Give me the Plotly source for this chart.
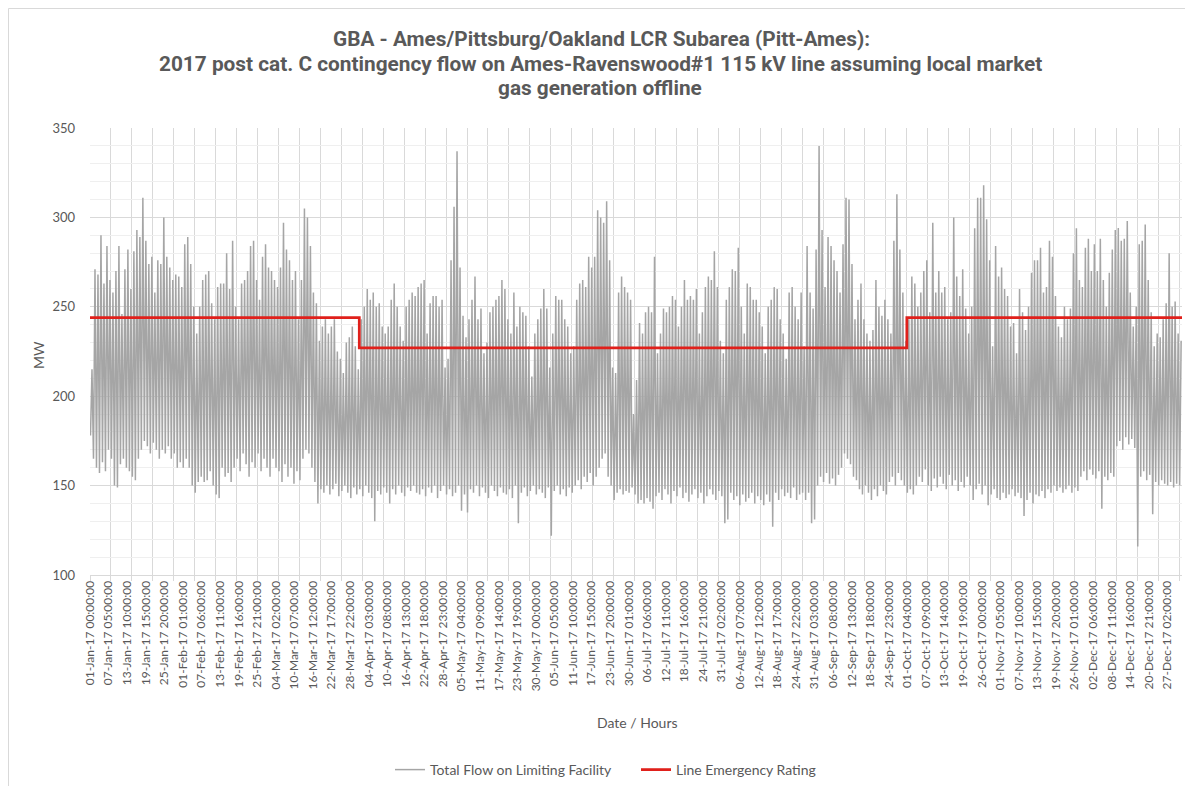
import pandas as pd
import plotly.graph_objects as go

# ---------------- data ----------------
year_start = "2017-01-01"

# daily peak of total flow (MW), 01-Jan .. 31-Dec
daily_high = [
    215, 271, 268, 290, 263, 284, 265, 258, 270, 284,
    246, 271, 282, 260, 281, 293, 289, 311, 287, 274,
    278, 258, 276, 274, 300, 278, 272, 265, 268, 267,
    261, 285, 289, 274, 250, 235, 250, 265, 268, 270,
    252, 243, 261, 263, 263, 280, 260, 287, 250, 243,
    263, 265, 270, 284, 287, 265, 254, 278, 285, 272,
    270, 265, 261, 272, 297, 282, 276, 265, 270, 243,
    265, 305, 300, 284, 258, 252, 231, 239, 243, 235,
    239, 243, 225, 221, 213, 230, 233, 239, 228, 215,
    243, 250, 260, 254, 258, 250, 252, 239, 235, 239,
    254, 263, 250, 239, 231, 250, 254, 258, 256, 261,
    263, 265, 235, 252, 256, 256, 250, 254, 216, 221,
    276, 306, 337, 272, 245, 233, 243, 254, 267, 243,
    249, 224, 230, 247, 250, 254, 256, 265, 260, 243,
    235, 258, 239, 250, 247, 245, 228, 211, 235, 243,
    249, 260, 249, 216, 235, 256, 254, 254, 243, 239,
    224, 228, 254, 263, 265, 261, 278, 272, 278, 304,
    300, 297, 309, 276, 216, 213, 258, 267, 261, 258,
    254, 190, 209, 241, 235, 247, 250, 247, 278, 224,
    235, 249, 247, 250, 256, 254, 239, 250, 265, 254,
    256, 254, 260, 235, 247, 261, 267, 265, 281, 261,
    231, 224, 254, 261, 271, 270, 283, 250, 235, 263,
    261, 254, 254, 247, 239, 224, 250, 254, 261, 260,
    243, 235, 221, 258, 261, 250, 243, 258, 228, 284,
    258, 249, 282, 340, 293, 261, 289, 284, 276, 270,
    258, 285, 311, 310, 274, 243, 254, 263, 243, 235,
    231, 237, 265, 250, 245, 254, 243, 235, 287, 313,
    282, 258, 231, 243, 267, 263, 250, 258, 270, 276,
    247, 297, 258, 270, 258, 261, 243, 247, 300, 267,
    256, 271, 249, 235, 250, 294, 311, 311, 318, 299,
    276, 228, 284, 267, 272, 260, 256, 239, 241, 224,
    260, 247, 237, 250, 269, 276, 276, 283, 258, 261,
    287, 278, 256, 239, 233, 250, 243, 249, 280, 294,
    265, 261, 283, 288, 270, 285, 270, 288, 265, 250,
    269, 282, 293, 294, 287, 288, 298, 258, 239, 250,
    285, 287, 296, 265, 247, 228, 235, 233, 243, 252,
    280, 250, 253, 235, 231,
]

# daily trough of total flow (MW)
daily_low = [
    178, 165, 160, 157, 163, 158, 170, 165, 150, 149,
    162, 165, 160, 158, 155, 153, 165, 170, 175, 172,
    168, 174, 170, 165, 170, 168, 172, 165, 168, 160,
    163, 160, 165, 160, 150, 146, 152, 155, 152, 153,
    158, 150, 145, 143, 160, 155, 157, 152, 160, 165,
    158, 168, 162, 155, 163, 160, 168, 158, 165, 160,
    155, 165, 160, 158, 152, 162, 155, 160, 151, 158,
    153, 165, 170, 168, 160, 152, 140, 148, 146, 150,
    145, 148, 151, 144, 147, 150, 146, 143, 149, 145,
    148, 144, 150, 146, 143, 130, 147, 145, 149, 146,
    140, 148, 145, 150, 146, 144, 149, 147, 150, 146,
    145, 148, 144, 149, 146, 150, 143, 147, 150, 145,
    148, 144, 146, 150, 136, 145, 135, 148, 146, 150,
    144, 149, 146, 143, 150, 147, 144, 149, 146, 145,
    148, 143, 150, 129, 146, 149, 144, 147, 150, 145,
    148, 146, 143, 149, 122, 147, 150, 145, 148, 144,
    149, 146, 150, 153, 148, 155, 152, 157, 150, 155,
    160, 165, 168, 155, 150, 142, 146, 148, 145, 147,
    146, 149, 145, 140, 142, 140, 143, 141, 137, 144,
    146, 142, 148, 145, 140, 147, 144, 149, 143, 146,
    141, 145, 148, 143, 146, 140, 144, 148, 145, 142,
    147, 144, 129, 131, 146, 142, 144, 139, 145, 141,
    143, 146, 140, 144, 142, 139, 145, 141, 127, 146,
    142, 148, 144, 146, 143, 149, 142, 145, 146, 142,
    146, 129, 131, 150, 155, 152, 157, 151, 154, 150,
    156, 160, 168, 165, 162, 155, 153, 148, 145, 150,
    146, 142, 148, 144, 150, 147, 145, 152, 155, 150,
    157, 153, 150, 146, 148, 145, 150, 155, 152, 159,
    150, 147, 154, 149, 155, 151, 148, 156, 150, 153,
    147, 152, 149, 155, 150, 142, 148, 151, 145, 150,
    139, 145, 148, 143, 142, 146, 143, 145, 148, 144,
    146, 143, 133, 142, 146, 140, 145, 144, 147, 143,
    148, 146, 150, 147, 149, 146, 148, 150, 146, 149,
    147, 155, 158, 153, 159, 156, 154, 158, 137, 155,
    153, 157, 155, 172, 175, 170, 177, 173, 176, 171,
    116, 155, 158, 153, 156, 134, 152, 150, 153, 151,
    150, 152, 149, 151, 150,
]

# line emergency rating (MW) and the date each value starts
rating_start = ["2017-01-01 00:00", "2017-04-01 00:00", "2017-10-01 00:00", "2017-12-31 23:00"]
rating_value = [244, 227, 244, 244]

# category axis: a label every 149 hours, a tick/gridline every 168 hours
label_step_hours = 149
grid_step_hours = 168
n_hours = 8760

assert len(daily_high) == 365 and len(daily_low) == 365

# ---------------- build traces ----------------
t0 = pd.Timestamp(year_start)
flow_x, flow_y = [], []
for d in range(365):
    flow_x += [d * 24 + 4, d * 24 + 16]
    flow_y += [daily_low[d], daily_high[d]]

rate_x = [(pd.Timestamp(s) - t0) / pd.Timedelta(hours=1) for s in rating_start]

tickvals = list(range(0, n_hours, label_step_hours))
ticktext = [(t0 + pd.Timedelta(hours=h)).strftime("%d-%b-%y %H:%M:%S") for h in tickvals]
gridvals = list(range(0, n_hours, grid_step_hours))

TXT = "#595959"
FONT = "Lato"

fig = go.Figure()
fig.add_trace(go.Scatter(
    x=flow_x, y=flow_y, mode="lines",
    line=dict(color="#A5A5A5", width=1.5),
    name="Total Flow on Limiting Facility",
))
fig.add_trace(go.Scatter(
    x=rate_x, y=rating_value, mode="lines",
    line=dict(color="#E0201B", width=2.75, shape="hv"),
    name="Line Emergency Rating",
))

# the page body has an 8px margin: work in page pixels, convert to figure coordinates
OFF = 8
W, H = 1193 - OFF, 786 - OFF
PL, PR, PT, PB = 90, 1182, 128, 575           # plot area in page pixels
L, R, T, B = PL - OFF, W - (PR - OFF), PT - OFF, H - (PB - OFF)
pw, ph = W - L - R, H - T - B

def px(xp):   # page x -> paper x
    return (xp - OFF - L) / pw

def py(yp):   # page y -> paper y
    return (H - B - (yp - OFF)) / ph

TITLE_FONT = dict(size=20.8, color=TXT, family="Roboto", weight="bold")

fig.update_layout(
    template="none",
    width=W, height=H,
    margin=dict(l=L, r=R, t=T, b=B, autoexpand=False),
    paper_bgcolor="white", plot_bgcolor="white",
    font=dict(family=FONT, color=TXT, size=12),
    showlegend=True,
    legend=dict(orientation="h", x=px(390), xanchor="left", y=py(770), yanchor="middle",
                font=dict(size=14, color=TXT), bgcolor="rgba(0,0,0,0)",
                entrywidth=201, entrywidthmode="pixels"),
    xaxis=dict(
        range=[0, n_hours - 1], tickmode="array", tickvals=tickvals, ticktext=ticktext,
        tickangle=-90, tickfont=dict(size=12, color=TXT), ticks="", showgrid=False,
        showline=True, linecolor="#D9D9D9", linewidth=1, zeroline=False, automargin=False,
        minor=dict(tickmode="array", tickvals=gridvals, showgrid=True, gridcolor="#D9D9D9",
                   gridwidth=1, ticks="outside", ticklen=5, tickcolor="#D9D9D9"),
    ),
    yaxis=dict(
        range=[100, 350], dtick=50, tick0=100, showgrid=True, gridcolor="#D9D9D9", gridwidth=1,
        tickfont=dict(size=13, color=TXT), zeroline=False, showline=False, ticks="",
        ticklabelstandoff=14, automargin=False,
        minor=dict(dtick=10, showgrid=True, gridcolor="#EFEFEF", gridwidth=1),
    ),
    annotations=[
        dict(text="GBA - Ames/Pittsburg/Oakland LCR Subarea (Pitt-Ames):", x=px(601), xref="paper",
             xanchor="center", y=py(39), yref="paper", yanchor="middle", showarrow=False,
             font=TITLE_FONT),
        dict(text="2017 post cat. C contingency flow on Ames-Ravenswood#1 115 kV line assuming local market",
             x=px(600), xref="paper", xanchor="center", y=py(63.5), yref="paper", yanchor="middle",
             showarrow=False, font=TITLE_FONT),
        dict(text="gas generation offline", x=px(600), xref="paper", xanchor="center", y=py(88),
             yref="paper", yanchor="middle", showarrow=False, font=TITLE_FONT),
        dict(text="MW", x=px(38), xref="paper", xanchor="center", y=py(355), yref="paper",
             yanchor="middle", textangle=-90, showarrow=False, font=dict(size=14, color=TXT)),
        dict(text="Date / Hours", x=px(637), xref="paper", xanchor="center", y=py(722),
             yref="paper", yanchor="middle", showarrow=False, font=dict(size=14, color=TXT)),
    ],
    shapes=[
        dict(type="line", xref="paper", yref="paper", x0=px(8.5), x1=px(1193), y0=py(8.5), y1=py(8.5),
             line=dict(color="#D9D9D9", width=1), layer="below"),
        dict(type="line", xref="paper", yref="paper", x0=px(8.5), x1=px(8.5), y0=py(8.5), y1=py(790),
             line=dict(color="#D9D9D9", width=1), layer="below"),
    ],
)

fig.write_html("out.html")
